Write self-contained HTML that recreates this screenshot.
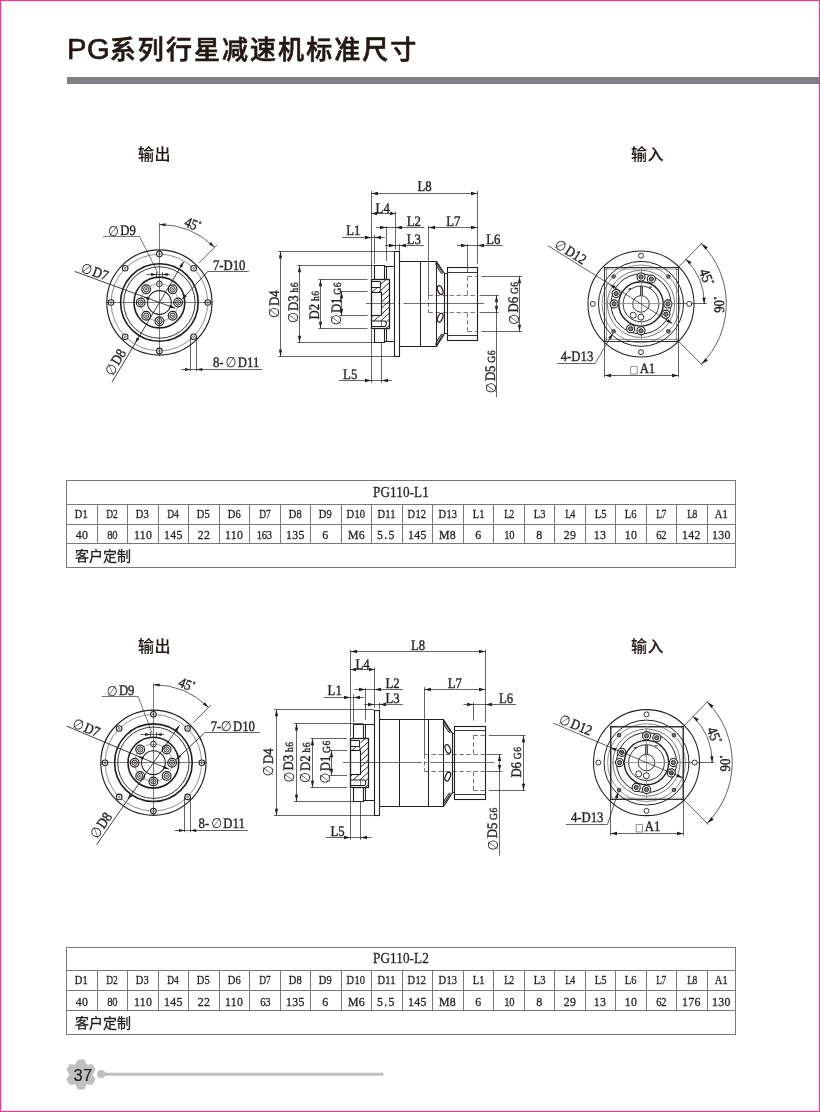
<!DOCTYPE html>
<html lang="zh-CN">
<head>
<meta charset="utf-8">
<title>PG系列行星减速机标准尺寸</title>
<style>
html,body{margin:0;padding:0;background:#fff}
body{width:820px;height:1112px;position:relative;overflow:hidden;font-family:"Liberation Sans","Noto Sans CJK SC",sans-serif;color:#231f20}
.frame{position:absolute;left:0;top:0;width:820px;height:1112px;box-sizing:border-box;border:1px solid #dc4496;box-shadow:inset 0 0 0 1px rgba(220,68,150,0.2);pointer-events:none}
h1,.lab,table.spec,.pg{will-change:transform}
h1{position:absolute;left:66.6px;top:30.7px;margin:0;font-size:26px;line-height:36px;font-weight:500;letter-spacing:2.05px;white-space:nowrap;color:#231815;-webkit-text-stroke:0.6px #231815}
h1 b{font-weight:400;font-size:29.2px;-webkit-text-stroke:0.65px #231815;letter-spacing:0.6px;margin-right:-0.6px}
.bar{position:absolute;left:66.5px;top:76.5px;width:752.3px;height:7.6px;background:#808184}
.lab{position:absolute;font-size:16px;line-height:20px;font-weight:500;white-space:nowrap;color:#231815;letter-spacing:0.4px;-webkit-text-stroke:0.1px #231815}
svg.dw{position:absolute;left:0;top:0;will-change:transform;text-rendering:geometricPrecision}
svg.dw *{stroke:#231f20}
svg.dw text,svg.dw tspan{stroke:#231f20;stroke-width:0.38px;fill:#231f20;font-family:"Liberation Serif","Noto Serif CJK SC",serif}
svg.dw tspan.dia{stroke:none;font-family:"DejaVu Sans","Liberation Sans",sans-serif}
svg.dw path[fill="#231f20"]{stroke:none}
table.spec{position:absolute;left:66.1px;border-collapse:collapse;table-layout:fixed;width:668px;font-family:"Liberation Serif","Noto Serif CJK SC",serif;color:#231f20}
table.spec col{width:30.5px}
table.spec col.last{width:28px}
table.spec th,table.spec td{border:1px solid #77787a;padding:0;text-align:center;font-weight:400;font-size:13.5px;line-height:1;overflow:hidden;white-space:nowrap;box-sizing:border-box}
table.spec span{display:inline-block;transform:scaleX(.78);transform-origin:50% 50%;letter-spacing:0.2px;-webkit-text-stroke:0.3px #231f20;position:relative;top:0.8px}
table.spec span.t{transform:scaleX(.7);letter-spacing:-0.4px}
table.spec .r0 th{height:24px;font-size:14.6px}
table.spec .r0 span{transform:scaleX(.9);letter-spacing:0.1px;top:-0.4px}
table.spec .r1 th{height:20px}
table.spec .r1 span{top:-0.6px}
table.spec .r2 td{height:19px;font-size:13.2px}
table.spec .r2 span{transform:scale(.9,1);top:1px;letter-spacing:0.3px}
table.spec .r2 span.t{transform:scale(.8,1);letter-spacing:-0.4px}
table.spec .r2 span.w{letter-spacing:1.4px}
table.spec .r3 td{height:24px;text-align:left;padding-left:8.0px;padding-top:0.6px;-webkit-text-stroke:0.3px #231f20;font-family:"Liberation Sans","Noto Sans CJK SC",sans-serif;font-size:14px;letter-spacing:0px}
table.t2 .r0 th{height:23px}
table.t2 .r2 td{height:20px}
.t1{top:480px}.t2{top:947px}
.foot{position:absolute;left:60px;top:1054px;width:340px;height:42px}
.pg{position:absolute;left:67.5px;top:1064.6px;width:30px;text-align:center;font-size:16.5px;line-height:20px;color:#1d1d1b;letter-spacing:0.2px;-webkit-text-stroke:0.2px #1d1d1b}
</style>
</head>
<body>
<h1><b>PG</b>系列行星减速机标准尺寸</h1>
<div class="bar"></div>
<div class="lab" style="left:137.6px;top:144.7px">输出</div>
<div class="lab" style="left:630.8px;top:144.8px">输入</div>
<div class="lab" style="left:137.9px;top:637.3px">输出</div>
<div class="lab" style="left:631px;top:637.3px">输入</div>
<svg class="dw" width="820" height="1112" viewBox="0 0 820 1112" fill="none">
<g id="set1">
<circle cx="159.4" cy="302.5" r="52.6" stroke-width="1.15" fill="none"/>
<circle cx="159.4" cy="302.5" r="48.3" stroke-width="0.5" fill="none"/>
<circle cx="159.4" cy="302.5" r="38.8" stroke-width="1.6" fill="none"/>
<circle cx="159.4" cy="302.5" r="35.7" stroke-width="0.9" fill="none"/>
<circle cx="159.4" cy="302.5" r="25.4" stroke-width="1.6" fill="none"/>
<circle cx="159.4" cy="302.5" r="18.7" stroke-width="0.4" fill="none"/>
<circle cx="159.4" cy="302.5" r="11.9" stroke-width="1.05" fill="none"/>
<circle cx="207.8" cy="302.5" r="2.8" stroke-width="1.05" fill="#fff"/>
<circle cx="207.8" cy="302.5" r="0.9" stroke-width="0.6" fill="none"/>
<circle cx="193.62" cy="268.28" r="2.8" stroke-width="1.05" fill="#fff"/>
<circle cx="193.62" cy="268.28" r="0.9" stroke-width="0.6" fill="none"/>
<circle cx="159.4" cy="254.1" r="2.8" stroke-width="1.05" fill="#fff"/>
<circle cx="159.4" cy="254.1" r="0.9" stroke-width="0.6" fill="none"/>
<circle cx="125.18" cy="268.28" r="2.8" stroke-width="1.05" fill="#fff"/>
<circle cx="125.18" cy="268.28" r="0.9" stroke-width="0.6" fill="none"/>
<circle cx="111" cy="302.5" r="2.8" stroke-width="1.05" fill="#fff"/>
<circle cx="111" cy="302.5" r="0.9" stroke-width="0.6" fill="none"/>
<circle cx="125.18" cy="336.72" r="2.8" stroke-width="1.05" fill="#fff"/>
<circle cx="125.18" cy="336.72" r="0.9" stroke-width="0.6" fill="none"/>
<circle cx="159.4" cy="350.9" r="2.8" stroke-width="1.05" fill="#fff"/>
<circle cx="159.4" cy="350.9" r="0.9" stroke-width="0.6" fill="none"/>
<circle cx="193.62" cy="336.72" r="2.8" stroke-width="1.05" fill="#fff"/>
<circle cx="193.62" cy="336.72" r="0.9" stroke-width="0.6" fill="none"/>
<circle cx="178.1" cy="302.5" r="4.35" stroke-width="1.15" fill="#fff"/>
<circle cx="178.1" cy="302.5" r="2.6" stroke-width="0.95" fill="none"/>
<circle cx="178.1" cy="302.5" r="0.9" stroke-width="0.75" fill="none"/>
<circle cx="172.62" cy="289.28" r="4.35" stroke-width="1.15" fill="#fff"/>
<circle cx="172.62" cy="289.28" r="2.6" stroke-width="0.95" fill="none"/>
<circle cx="172.62" cy="289.28" r="0.9" stroke-width="0.75" fill="none"/>
<circle cx="159.4" cy="283.8" r="2.8" stroke-width="1" fill="#fff"/>
<line x1="157.8" y1="283.5" x2="161" y2="283.5" stroke-width="0.5"/>
<circle cx="146.18" cy="289.28" r="4.35" stroke-width="1.15" fill="#fff"/>
<circle cx="146.18" cy="289.28" r="2.6" stroke-width="0.95" fill="none"/>
<circle cx="146.18" cy="289.28" r="0.9" stroke-width="0.75" fill="none"/>
<circle cx="140.7" cy="302.5" r="4.35" stroke-width="1.15" fill="#fff"/>
<circle cx="140.7" cy="302.5" r="2.6" stroke-width="0.95" fill="none"/>
<circle cx="140.7" cy="302.5" r="0.9" stroke-width="0.75" fill="none"/>
<circle cx="146.18" cy="315.72" r="4.35" stroke-width="1.15" fill="#fff"/>
<circle cx="146.18" cy="315.72" r="2.6" stroke-width="0.95" fill="none"/>
<circle cx="146.18" cy="315.72" r="0.9" stroke-width="0.75" fill="none"/>
<circle cx="159.4" cy="321.2" r="4.35" stroke-width="1.15" fill="#fff"/>
<circle cx="159.4" cy="321.2" r="2.6" stroke-width="0.95" fill="none"/>
<circle cx="159.4" cy="321.2" r="0.9" stroke-width="0.75" fill="none"/>
<circle cx="172.62" cy="315.72" r="4.35" stroke-width="1.15" fill="#fff"/>
<circle cx="172.62" cy="315.72" r="2.6" stroke-width="0.95" fill="none"/>
<circle cx="172.62" cy="315.72" r="0.9" stroke-width="0.75" fill="none"/>
<line x1="159.5" y1="222.7" x2="159.5" y2="356" stroke-width="0.6"/>
<line x1="105.9" y1="302.5" x2="212.9" y2="302.5" stroke-width="0.6"/>
<line x1="146.4" y1="274.5" x2="169.9" y2="274.5" stroke-width="0.7"/>
<path d="M156.6 274.5 L151.1 275.89 L151.1 273.11 Z" fill="#231f20" stroke="none"/>
<path d="M162.2 274.5 L167.7 273.11 L167.7 275.89 Z" fill="#231f20" stroke="none"/>
<line x1="156.5" y1="271.9" x2="156.5" y2="276.9" stroke-width="0.7"/>
<line x1="162.5" y1="271.9" x2="162.5" y2="276.9" stroke-width="0.7"/>
<text transform="translate(109.3 235.1) scale(0.88 1)" font-size="14.5" text-anchor="start"><tspan class="dia" font-size="14.21" dy="0.5" dx="-1.5">∅</tspan><tspan dx="1.5" dy="-0.5">D9</tspan></text>
<line x1="103" y1="236.5" x2="139.5" y2="236.5" stroke-width="0.6"/>
<line x1="139.5" y1="236.5" x2="158.2" y2="273.5" stroke-width="0.6"/>
<line x1="74.6" y1="271.4" x2="175.18" y2="308.27" stroke-width="0.85"/>
<path d="M175.18 308.27 L169.2 307.74 L170.26 304.82 Z" fill="#231f20" stroke="none"/>
<path d="M143.62 296.73 L149.6 297.26 L148.54 300.18 Z" fill="#231f20" stroke="none"/>
<text transform="translate(81.3 271.7) rotate(20.1) scale(0.88 1)" font-size="14.5" text-anchor="start"><tspan class="dia" font-size="14.21" dy="0.5" dx="-1.5">∅</tspan><tspan dx="1.5" dy="-0.5">D7</tspan></text>
<line x1="111.9" y1="382.3" x2="183.72" y2="261.7" stroke-width="0.85"/>
<path d="M183.72 261.7 L181.98 267.65 L179.32 266.06 Z" fill="#231f20" stroke="none"/>
<path d="M135.08 343.3 L136.82 337.35 L139.48 338.94 Z" fill="#231f20" stroke="none"/>
<text transform="translate(112.9 375.4) rotate(-59.2) scale(0.88 1)" font-size="14.5" text-anchor="start"><tspan class="dia" font-size="14.21" dy="0.5" dx="-1.5">∅</tspan><tspan dx="1.5" dy="-0.5">D8</tspan></text>
<path d="M159.4 224.5 A78 78 0 0 1 214.55 247.35" stroke-width="0.7" fill="none"/>
<path d="M159.4 224.5 L165.66 223.22 L165.53 226.32 Z" fill="#231f20" stroke="none"/>
<path d="M214.55 247.35 L208.94 244.3 L211.03 242.01 Z" fill="#231f20" stroke="none"/>
<line x1="199" y1="262.9" x2="217.03" y2="244.87" stroke-width="0.7"/>
<text transform="translate(190.74 228.68) rotate(22) scale(0.88 1)" font-size="14.6" text-anchor="middle">45<tspan font-size="7.59" dy="-5.26" dx="0.4">°</tspan></text>
<text transform="translate(212.9 269.5) scale(0.88 1)" font-size="14.5" text-anchor="start">7-D10</text>
<line x1="207.8" y1="271.5" x2="248.8" y2="271.5" stroke-width="0.7"/>
<line x1="207.8" y1="271.4" x2="182.08" y2="299.31" stroke-width="0.85"/>
<path d="M182.08 299.31 L184.66 294.22 L186.94 296.32 Z" fill="#231f20" stroke="none"/>
<text transform="translate(212.9 366.9) scale(0.88 1)" font-size="14.5" text-anchor="start">8- <tspan class="dia" font-size="14.21" dy="0.5" dx="-0.6">∅</tspan><tspan dx="1.5" dy="-0.5">D11</tspan></text>
<line x1="181.1" y1="369.5" x2="262.3" y2="369.5" stroke-width="0.7"/>
<line x1="190.5" y1="336.72" x2="190.5" y2="371.3" stroke-width="0.7"/>
<line x1="196.5" y1="336.72" x2="196.5" y2="371.3" stroke-width="0.7"/>
<path d="M190.92 369.5 L184.92 371.05 L184.92 367.95 Z" fill="#231f20" stroke="none"/>
<path d="M196.32 369.5 L202.32 367.95 L202.32 371.05 Z" fill="#231f20" stroke="none"/>
<line x1="366" y1="303.5" x2="484.2" y2="303.5" stroke-width="0.65" stroke-dasharray="29 3.4 1.7 3.4 200"/>
<path d="M374.5 279.5 L374.5 265.5 L384.5 265.5 L384.5 279.5" stroke-width="1.1" fill="none"/>
<line x1="384.4" y1="266.5" x2="394.9" y2="266.5" stroke-width="1"/>
<line x1="386.5" y1="266.1" x2="386.5" y2="279.7" stroke-width="1"/>
<path d="M374.5 328.5 L374.5 342.5 L384.5 342.5 L384.5 328.5" stroke-width="1.1" fill="none"/>
<line x1="384.4" y1="341.5" x2="394.9" y2="341.5" stroke-width="1"/>
<line x1="386.5" y1="341.7" x2="386.5" y2="328.1" stroke-width="1"/>
<clipPath id="hc1"><path d="M381 279.7 H389.3 V328.1 H381 Z M371 287.7 H381 V292 H371 Z M371 315.8 H381 V320.9 H371 Z"/></clipPath>
<path d="M365 249.7 l40 -36 M365 255.8 l40 -36 M365 261.9 l40 -36 M365 268 l40 -36 M365 274.1 l40 -36 M365 280.2 l40 -36 M365 286.3 l40 -36 M365 292.4 l40 -36 M365 298.5 l40 -36 M365 304.6 l40 -36 M365 310.7 l40 -36 M365 316.8 l40 -36 M365 322.9 l40 -36 M365 329 l40 -36 M365 335.1 l40 -36 M365 341.2 l40 -36 M365 347.3 l40 -36 M365 353.4 l40 -36 M365 359.5 l40 -36 M365 365.6 l40 -36" stroke-width="0.95" clip-path="url(#hc1)" fill="none"/>
<line x1="381.5" y1="292" x2="381.5" y2="315.8" stroke-width="1.1"/>
<line x1="371" y1="292.5" x2="381" y2="292.5" stroke-width="1.1"/>
<line x1="371" y1="315.5" x2="381" y2="315.5" stroke-width="1.1"/>
<path d="M371.5 287.5 L380.5 287.5 L380.5 281.5 L371.5 281.5" stroke-width="1" fill="none"/>
<line x1="380" y1="287.7" x2="381" y2="292" stroke-width="0.8"/>
<path d="M371 320.9 H385.2 Q387.4 323.65 385.2 326.4 H371" stroke-width="1.05" fill="#fff"/>
<line x1="381.5" y1="320.9" x2="381.5" y2="326.4" stroke-width="0.6"/>
<rect x="371.5" y="279.5" width="18" height="49" stroke-width="1.3" fill="none"/>
<rect x="394.5" y="251.5" width="5" height="105" stroke-width="1.1" fill="none"/>
<path d="M399.5 261.5 L436.5 261.5 L444.5 273.5 L444.5 333.5 L436.5 346.5 L399.5 346.5" stroke-width="1.1" fill="none"/>
<line x1="420.5" y1="261.1" x2="420.5" y2="346.7" stroke-width="1"/>
<line x1="436.5" y1="261.1" x2="436.5" y2="346.7" stroke-width="1"/>
<ellipse cx="440.2" cy="290.1" rx="2.4" ry="4.6" transform="rotate(-22 440.2 290.1)" stroke-width="1.2" fill="none"/>
<ellipse cx="439" cy="268.4" rx="0.8" ry="6.04" transform="rotate(-32.01 439 268.4)" stroke-width="1" fill="none"/>
<ellipse cx="440.2" cy="317.7" rx="2.4" ry="4.6" transform="rotate(22 440.2 317.7)" stroke-width="1.2" fill="none"/>
<ellipse cx="439" cy="339.4" rx="0.8" ry="6.04" transform="rotate(32.01 439 339.4)" stroke-width="1" fill="none"/>
<rect x="447.5" y="267.5" width="30" height="73" stroke-width="1.1" fill="none"/>
<line x1="447.4" y1="272.5" x2="477.8" y2="272.5" stroke-width="0.9"/>
<line x1="447.4" y1="335.5" x2="477.8" y2="335.5" stroke-width="0.9"/>
<line x1="444.1" y1="273.5" x2="447.4" y2="273.5" stroke-width="0.9"/>
<line x1="444.1" y1="333.5" x2="447.4" y2="333.5" stroke-width="0.9"/>
<line x1="428.5" y1="295.5" x2="477.8" y2="295.5" stroke-width="0.62" stroke-dasharray="4.4 2.6"/>
<line x1="467.9" y1="276.5" x2="477.8" y2="276.5" stroke-width="0.62" stroke-dasharray="4.4 2.6"/>
<line x1="467.5" y1="276.3" x2="467.5" y2="295.4" stroke-width="0.62" stroke-dasharray="4.4 2.6"/>
<line x1="428.5" y1="312.5" x2="477.8" y2="312.5" stroke-width="0.62" stroke-dasharray="4.4 2.6"/>
<line x1="467.9" y1="331.5" x2="477.8" y2="331.5" stroke-width="0.62" stroke-dasharray="4.4 2.6"/>
<line x1="467.5" y1="331.5" x2="467.5" y2="312.4" stroke-width="0.62" stroke-dasharray="4.4 2.6"/>
<line x1="428.5" y1="295.4" x2="428.5" y2="312.4" stroke-width="0.62" stroke-dasharray="4.4 2.6"/>
<line x1="371.5" y1="193.5" x2="477.5" y2="193.5" stroke-width="0.7"/>
<path d="M371.5 193.5 L378 191.87 L378 195.13 Z" fill="#231f20" stroke="none"/>
<path d="M477.5 193.5 L471 195.13 L471 191.87 Z" fill="#231f20" stroke="none"/>
<text transform="translate(424.6 191.1) scale(0.88 1)" font-size="14.5" text-anchor="middle">L8</text>
<line x1="371.5" y1="191" x2="371.5" y2="278.2" stroke-width="0.7"/>
<line x1="477.5" y1="191" x2="477.5" y2="263.7" stroke-width="0.7"/>
<line x1="371.5" y1="213.5" x2="395.5" y2="213.5" stroke-width="0.7"/>
<path d="M371.5 213.5 L377 211.87 L377 215.13 Z" fill="#231f20" stroke="none"/>
<path d="M395.5 213.5 L390 215.13 L390 211.87 Z" fill="#231f20" stroke="none"/>
<text transform="translate(375.6 213) scale(0.88 1)" font-size="14.5" text-anchor="start">L4</text>
<line x1="395.5" y1="211.6" x2="395.5" y2="249.2" stroke-width="0.7"/>
<line x1="375.8" y1="227.5" x2="424.3" y2="227.5" stroke-width="0.7"/>
<path d="M386.5 227.5 L380 229.13 L380 225.87 Z" fill="#231f20" stroke="none"/>
<path d="M395.5 227.5 L402 225.87 L402 229.13 Z" fill="#231f20" stroke="none"/>
<text transform="translate(406.8 226.2) scale(0.88 1)" font-size="14.5" text-anchor="start">L2</text>
<line x1="386.5" y1="226.2" x2="386.5" y2="261.1" stroke-width="0.7"/>
<line x1="384.8" y1="245.5" x2="424.1" y2="245.5" stroke-width="0.7"/>
<path d="M395.5 245.5 L389 247.13 L389 243.87 Z" fill="#231f20" stroke="none"/>
<path d="M399.5 245.5 L406 243.87 L406 247.13 Z" fill="#231f20" stroke="none"/>
<text transform="translate(406.8 244) scale(0.88 1)" font-size="14.5" text-anchor="start">L3</text>
<line x1="399.5" y1="243.9" x2="399.5" y2="250.7" stroke-width="0.7"/>
<line x1="428.5" y1="227.5" x2="477.5" y2="227.5" stroke-width="0.7"/>
<path d="M428.5 227.5 L435 225.87 L435 229.13 Z" fill="#231f20" stroke="none"/>
<path d="M477.5 227.5 L471 229.13 L471 225.87 Z" fill="#231f20" stroke="none"/>
<text transform="translate(446.3 226.2) scale(0.88 1)" font-size="14.5" text-anchor="start">L7</text>
<line x1="428.5" y1="225.6" x2="428.5" y2="295.4" stroke-width="0.7"/>
<line x1="456.9" y1="245.5" x2="502.7" y2="245.5" stroke-width="0.7"/>
<path d="M467.5 245.5 L461 247.13 L461 243.87 Z" fill="#231f20" stroke="none"/>
<path d="M477.5 245.5 L484 243.87 L484 247.13 Z" fill="#231f20" stroke="none"/>
<text transform="translate(486.2 244) scale(0.88 1)" font-size="14.5" text-anchor="start">L6</text>
<line x1="467.5" y1="243.9" x2="467.5" y2="272.1" stroke-width="0.7"/>
<line x1="342.3" y1="237.5" x2="384.8" y2="237.5" stroke-width="0.7"/>
<path d="M371.5 237.5 L365 239.13 L365 235.87 Z" fill="#231f20" stroke="none"/>
<path d="M374.5 237.5 L381 235.87 L381 239.13 Z" fill="#231f20" stroke="none"/>
<text transform="translate(346.3 235.2) scale(0.88 1)" font-size="14.5" text-anchor="start">L1</text>
<line x1="374.5" y1="234.8" x2="374.5" y2="263.6" stroke-width="0.7"/>
<line x1="339.1" y1="380.5" x2="391.9" y2="380.5" stroke-width="0.7"/>
<path d="M371.5 380.5 L365 382.13 L365 378.87 Z" fill="#231f20" stroke="none"/>
<path d="M381.5 380.5 L388 378.87 L388 382.13 Z" fill="#231f20" stroke="none"/>
<text transform="translate(343.1 378.8) scale(0.88 1)" font-size="14.5" text-anchor="start">L5</text>
<line x1="371.5" y1="329.6" x2="371.5" y2="382.8" stroke-width="0.7"/>
<line x1="381.5" y1="342.2" x2="381.5" y2="382.8" stroke-width="0.7"/>
<line x1="278.2" y1="251.5" x2="394.9" y2="251.5" stroke-width="0.7"/>
<line x1="278.2" y1="356.5" x2="394.9" y2="356.5" stroke-width="0.7"/>
<line x1="280.5" y1="251.5" x2="280.5" y2="356.5" stroke-width="0.7"/>
<path d="M280.5 251.5 L282.13 258.3 L278.87 258.3 Z" fill="#231f20" stroke="none"/>
<path d="M280.5 356.5 L278.87 349.7 L282.13 349.7 Z" fill="#231f20" stroke="none"/>
<text transform="translate(278.6 316.8) rotate(-90) scale(0.88 1)" font-size="14.5" text-anchor="start"><tspan class="dia" font-size="14.21" dy="0.5" dx="-1.5">∅</tspan><tspan dx="1.5" dy="-0.5">D4</tspan></text>
<line x1="297.2" y1="265.5" x2="384.8" y2="265.5" stroke-width="0.7"/>
<line x1="297.2" y1="342.5" x2="384.8" y2="342.5" stroke-width="0.7"/>
<line x1="299.5" y1="265.5" x2="299.5" y2="342.5" stroke-width="0.7"/>
<path d="M299.5 265.5 L301.13 272.3 L297.87 272.3 Z" fill="#231f20" stroke="none"/>
<path d="M299.5 342.5 L297.87 335.7 L301.13 335.7 Z" fill="#231f20" stroke="none"/>
<text transform="translate(297.7 321.8) rotate(-90) scale(0.88 1)" font-size="14.5" text-anchor="start"><tspan class="dia" font-size="14.21" dy="0.5" dx="-1.5">∅</tspan><tspan dx="1.5" dy="-0.5">D3</tspan><tspan font-size="10.88" dx="3.2" letter-spacing="0.5">h6</tspan></text>
<line x1="318.4" y1="279.5" x2="367.5" y2="279.5" stroke-width="0.7"/>
<line x1="318.4" y1="328.5" x2="367.5" y2="328.5" stroke-width="0.7"/>
<line x1="320.5" y1="279.5" x2="320.5" y2="328.5" stroke-width="0.7"/>
<path d="M320.5 279.5 L322.13 286.3 L318.87 286.3 Z" fill="#231f20" stroke="none"/>
<path d="M320.5 328.5 L318.87 321.7 L322.13 321.7 Z" fill="#231f20" stroke="none"/>
<text transform="translate(319.3 319.4) rotate(-90) scale(0.88 1)" font-size="14.5" text-anchor="start">D2<tspan font-size="10.88" dx="3.2" letter-spacing="0.5">h6</tspan></text>
<line x1="339.4" y1="291.5" x2="367.5" y2="291.5" stroke-width="0.7"/>
<line x1="339.4" y1="315.5" x2="367.5" y2="315.5" stroke-width="0.7"/>
<line x1="341.5" y1="291.5" x2="341.5" y2="315.5" stroke-width="0.7"/>
<path d="M341.5 291.5 L343.13 298.3 L339.87 298.3 Z" fill="#231f20" stroke="none"/>
<path d="M341.5 315.5 L339.87 308.7 L343.13 308.7 Z" fill="#231f20" stroke="none"/>
<text transform="translate(340.5 324) rotate(-90) scale(0.88 1)" font-size="14.5" text-anchor="start"><tspan class="dia" font-size="14.21" dy="0.5" dx="-1.5">∅</tspan><tspan dx="1.5" dy="-0.5">D1</tspan><tspan font-size="10.88" dx="3.2" letter-spacing="0.5">G6</tspan></text>
<line x1="481.3" y1="276.5" x2="522.1" y2="276.5" stroke-width="0.7"/>
<line x1="481.3" y1="331.5" x2="522.1" y2="331.5" stroke-width="0.7"/>
<line x1="519.5" y1="276.5" x2="519.5" y2="331.5" stroke-width="0.7"/>
<path d="M519.5 276.5 L521.13 283.3 L517.87 283.3 Z" fill="#231f20" stroke="none"/>
<path d="M519.5 331.5 L517.87 324.7 L521.13 324.7 Z" fill="#231f20" stroke="none"/>
<text transform="translate(518.4 323.4) rotate(-90) scale(0.88 1)" font-size="14.5" text-anchor="start"><tspan class="dia" font-size="14.21" dy="0.5" dx="-1.5">∅</tspan><tspan dx="1.5" dy="-0.5">D6</tspan><tspan font-size="10.88" dx="3.2" letter-spacing="0.5">G6</tspan></text>
<line x1="479.5" y1="295.5" x2="498.7" y2="295.5" stroke-width="0.7"/>
<line x1="479.5" y1="312.5" x2="498.7" y2="312.5" stroke-width="0.7"/>
<line x1="496.5" y1="295.4" x2="496.5" y2="397.2" stroke-width="0.7"/>
<path d="M496.5 295.5 L498.13 302 L494.87 302 Z" fill="#231f20" stroke="none"/>
<path d="M496.5 312.5 L494.87 306 L498.13 306 Z" fill="#231f20" stroke="none"/>
<text transform="translate(495.4 392) rotate(-90) scale(0.88 1)" font-size="14.5" text-anchor="start"><tspan class="dia" font-size="14.21" dy="0.5" dx="-1.5">∅</tspan><tspan dx="1.5" dy="-0.5">D5</tspan><tspan font-size="10.88" dx="3.2" letter-spacing="0.5">G6</tspan></text>
<circle cx="641" cy="303.9" r="53" stroke-width="1.05" fill="none"/>
<circle cx="641" cy="303.9" r="42.5" stroke-width="1" fill="none"/>
<circle cx="641" cy="303.9" r="38.9" stroke-width="0.5" fill="none"/>
<circle cx="641" cy="303.9" r="33.6" stroke-width="0.6" fill="none"/>
<circle cx="641" cy="303.9" r="30" stroke-width="1" fill="none"/>
<circle cx="641" cy="303.9" r="22.2" stroke-width="1.4" fill="none"/>
<circle cx="641" cy="303.9" r="17.9" stroke-width="0.9" fill="none"/>
<circle cx="641" cy="303.9" r="8.3" stroke-width="0.9" fill="none"/>
<rect x="604.5" y="267.5" width="74" height="74" stroke-width="0.9" fill="none"/>
<rect x="606.2" y="269" width="70.4" height="70.4" stroke-width="0.45" fill="none"/>
<line x1="605" y1="303.5" x2="677" y2="303.5" stroke-width="1" style="stroke:#999"/>
<line x1="677" y1="303.5" x2="706.8" y2="303.5" stroke-width="0.7"/>
<line x1="641.5" y1="267.9" x2="641.5" y2="339.9" stroke-width="1" style="stroke:#999"/>
<circle cx="689.2" cy="303.9" r="2.5" stroke-width="0.9" fill="#fff"/>
<circle cx="641" cy="255.7" r="2.5" stroke-width="0.9" fill="#fff"/>
<circle cx="592.8" cy="303.9" r="2.5" stroke-width="0.9" fill="#fff"/>
<circle cx="641" cy="352.1" r="2.5" stroke-width="0.9" fill="#fff"/>
<circle cx="613.6" cy="276.5" r="1.8" stroke-width="0.9" fill="#777"/>
<circle cx="605.7" cy="268.5" r="1.1" stroke-width="0.5" fill="none"/>
<circle cx="613.6" cy="331.3" r="1.8" stroke-width="0.9" fill="#777"/>
<circle cx="605.7" cy="339.9" r="1.1" stroke-width="0.5" fill="none"/>
<circle cx="668.4" cy="276.5" r="1.8" stroke-width="0.9" fill="#777"/>
<circle cx="677.1" cy="268.5" r="1.1" stroke-width="0.5" fill="none"/>
<circle cx="668.4" cy="331.3" r="1.8" stroke-width="0.9" fill="#777"/>
<circle cx="677.1" cy="339.9" r="1.1" stroke-width="0.5" fill="none"/>
<circle cx="667.9" cy="303.9" r="4.05" stroke-width="1.1" fill="#fff"/>
<circle cx="667.9" cy="303.9" r="2.1" stroke-width="1" fill="#858585"/>
<circle cx="665.85" cy="314.19" r="4.05" stroke-width="1.1" fill="#fff"/>
<circle cx="665.85" cy="314.19" r="2.1" stroke-width="1" fill="#858585"/>
<circle cx="641" cy="277" r="4.05" stroke-width="1.1" fill="#fff"/>
<circle cx="641" cy="277" r="2.1" stroke-width="1" fill="#858585"/>
<circle cx="651.29" cy="279.05" r="4.05" stroke-width="1.1" fill="#fff"/>
<circle cx="651.29" cy="279.05" r="2.1" stroke-width="1" fill="#858585"/>
<circle cx="614.1" cy="303.9" r="4.05" stroke-width="1.1" fill="#fff"/>
<circle cx="614.1" cy="303.9" r="2.1" stroke-width="1" fill="#858585"/>
<circle cx="616.15" cy="293.61" r="4.05" stroke-width="1.1" fill="#fff"/>
<circle cx="616.15" cy="293.61" r="2.1" stroke-width="1" fill="#858585"/>
<circle cx="641" cy="330.8" r="4.05" stroke-width="1.1" fill="#fff"/>
<circle cx="641" cy="330.8" r="2.1" stroke-width="1" fill="#858585"/>
<circle cx="630.71" cy="328.75" r="4.05" stroke-width="1.1" fill="#fff"/>
<circle cx="630.71" cy="328.75" r="2.1" stroke-width="1" fill="#858585"/>
<circle cx="633.2" cy="315.2" r="3" stroke-width="0.9" fill="#fff"/>
<circle cx="640.9" cy="317.1" r="3" stroke-width="0.9" fill="#fff"/>
<line x1="640.5" y1="286.7" x2="640.5" y2="295.9" stroke-width="0.8"/>
<line x1="642.5" y1="286.7" x2="642.5" y2="295.9" stroke-width="0.8"/>
<line x1="640" y1="286.5" x2="642" y2="286.5" stroke-width="0.8"/>
<line x1="628.4" y1="289.3" x2="631" y2="288.5" stroke-width="1.1"/>
<line x1="649.2" y1="287.3" x2="652" y2="287" stroke-width="1.1"/>
<line x1="547.9" y1="245.6" x2="672.38" y2="323.51" stroke-width="0.7"/>
<path d="M672.38 323.51 L666.39 321.77 L668.19 318.88 Z" fill="#231f20" stroke="none"/>
<path d="M609.62 284.29 L615.61 286.03 L613.81 288.92 Z" fill="#231f20" stroke="none"/>
<text transform="translate(554.8 247.4) rotate(32) scale(0.88 1)" font-size="14.5" text-anchor="start"><tspan class="dia" font-size="14.21" dy="0.5" dx="-1.5">∅</tspan><tspan dx="1.5" dy="-0.5">D12</tspan></text>
<text transform="translate(560.7 360.8) scale(0.88 1)" font-size="14.5" text-anchor="start">4-D13</text>
<line x1="556.9" y1="363.5" x2="595.3" y2="363.5" stroke-width="0.7"/>
<line x1="595.3" y1="363.2" x2="612.7" y2="333.5" stroke-width="0.7"/>
<path d="M612.7 333.5 L611.14 339.54 L608.2 337.82 Z" fill="#231f20" stroke="none"/>
<line x1="604.5" y1="375.5" x2="678.5" y2="375.5" stroke-width="0.7"/>
<path d="M604.5 375.5 L611 373.87 L611 377.13 Z" fill="#231f20" stroke="none"/>
<path d="M678.5 375.5 L672 377.13 L672 373.87 Z" fill="#231f20" stroke="none"/>
<line x1="604.5" y1="341.1" x2="604.5" y2="377.5" stroke-width="0.7"/>
<line x1="678.5" y1="341.1" x2="678.5" y2="377.5" stroke-width="0.7"/>
<text transform="translate(629.8 373) scale(0.88 1)" font-size="14.5" text-anchor="start"><tspan class="dia" font-size="10.15" dy="-0.3">□</tspan><tspan dx="1.6" dy="0.3">A1</tspan></text>
<path d="M685.76 259.14 A63.3 63.3 0 0 1 704.3 303.9" stroke-width="0.7" fill="none"/>
<path d="M701.32 243.58 A85.3 85.3 0 0 1 701.32 364.22" stroke-width="0.7" fill="none"/>
<line x1="678.3" y1="267.3" x2="702.73" y2="242.17" stroke-width="0.7"/>
<line x1="678.3" y1="341.1" x2="702.73" y2="365.63" stroke-width="0.7"/>
<path d="M701.32 243.58 L707.81 247.13 L705.53 249.67 Z" fill="#231f20" stroke="none"/>
<path d="M701.32 364.22 L705.53 358.13 L707.81 360.67 Z" fill="#231f20" stroke="none"/>
<path d="M685.76 259.14 L691.58 262.09 L689.3 264.62 Z" fill="#231f20" stroke="none"/>
<path d="M704.3 303.9 L702.27 297.7 L705.67 297.52 Z" fill="#231f20" stroke="none"/>
<text transform="translate(701.8 278.8) rotate(68) scale(0.88 1)" font-size="15" text-anchor="middle">45<tspan font-size="7.8" dy="-5.4" dx="0.4">°</tspan></text>
<text transform="translate(724.4 312.8) rotate(-90) scale(0.88 1)" font-size="14.6" text-anchor="start">90<tspan font-size="7.59" dy="-5.26" dx="0.4">°</tspan></text>
</g>
<g id="set2">
<circle cx="153.4" cy="762.7" r="52.6" stroke-width="1.15" fill="none"/>
<circle cx="153.4" cy="762.7" r="48.3" stroke-width="0.5" fill="none"/>
<circle cx="153.4" cy="762.7" r="38.8" stroke-width="1.6" fill="none"/>
<circle cx="153.4" cy="762.7" r="35.7" stroke-width="0.9" fill="none"/>
<circle cx="153.4" cy="762.7" r="25.4" stroke-width="1.6" fill="none"/>
<circle cx="153.4" cy="762.7" r="18.7" stroke-width="0.4" fill="none"/>
<circle cx="153.4" cy="762.7" r="11.9" stroke-width="1.05" fill="none"/>
<circle cx="201.8" cy="762.7" r="2.8" stroke-width="1.05" fill="#fff"/>
<circle cx="201.8" cy="762.7" r="0.9" stroke-width="0.6" fill="none"/>
<circle cx="187.62" cy="728.48" r="2.8" stroke-width="1.05" fill="#fff"/>
<circle cx="187.62" cy="728.48" r="0.9" stroke-width="0.6" fill="none"/>
<circle cx="153.4" cy="714.3" r="2.8" stroke-width="1.05" fill="#fff"/>
<circle cx="153.4" cy="714.3" r="0.9" stroke-width="0.6" fill="none"/>
<circle cx="119.18" cy="728.48" r="2.8" stroke-width="1.05" fill="#fff"/>
<circle cx="119.18" cy="728.48" r="0.9" stroke-width="0.6" fill="none"/>
<circle cx="105" cy="762.7" r="2.8" stroke-width="1.05" fill="#fff"/>
<circle cx="105" cy="762.7" r="0.9" stroke-width="0.6" fill="none"/>
<circle cx="119.18" cy="796.92" r="2.8" stroke-width="1.05" fill="#fff"/>
<circle cx="119.18" cy="796.92" r="0.9" stroke-width="0.6" fill="none"/>
<circle cx="153.4" cy="811.1" r="2.8" stroke-width="1.05" fill="#fff"/>
<circle cx="153.4" cy="811.1" r="0.9" stroke-width="0.6" fill="none"/>
<circle cx="187.62" cy="796.92" r="2.8" stroke-width="1.05" fill="#fff"/>
<circle cx="187.62" cy="796.92" r="0.9" stroke-width="0.6" fill="none"/>
<circle cx="172.1" cy="762.7" r="4.35" stroke-width="1.15" fill="#fff"/>
<circle cx="172.1" cy="762.7" r="2.6" stroke-width="0.95" fill="none"/>
<circle cx="172.1" cy="762.7" r="0.9" stroke-width="0.75" fill="none"/>
<circle cx="166.62" cy="749.48" r="4.35" stroke-width="1.15" fill="#fff"/>
<circle cx="166.62" cy="749.48" r="2.6" stroke-width="0.95" fill="none"/>
<circle cx="166.62" cy="749.48" r="0.9" stroke-width="0.75" fill="none"/>
<circle cx="153.4" cy="744" r="2.8" stroke-width="1" fill="#fff"/>
<line x1="151.8" y1="744.5" x2="155" y2="744.5" stroke-width="0.5"/>
<circle cx="140.18" cy="749.48" r="4.35" stroke-width="1.15" fill="#fff"/>
<circle cx="140.18" cy="749.48" r="2.6" stroke-width="0.95" fill="none"/>
<circle cx="140.18" cy="749.48" r="0.9" stroke-width="0.75" fill="none"/>
<circle cx="134.7" cy="762.7" r="4.35" stroke-width="1.15" fill="#fff"/>
<circle cx="134.7" cy="762.7" r="2.6" stroke-width="0.95" fill="none"/>
<circle cx="134.7" cy="762.7" r="0.9" stroke-width="0.75" fill="none"/>
<circle cx="140.18" cy="775.92" r="4.35" stroke-width="1.15" fill="#fff"/>
<circle cx="140.18" cy="775.92" r="2.6" stroke-width="0.95" fill="none"/>
<circle cx="140.18" cy="775.92" r="0.9" stroke-width="0.75" fill="none"/>
<circle cx="153.4" cy="781.4" r="4.35" stroke-width="1.15" fill="#fff"/>
<circle cx="153.4" cy="781.4" r="2.6" stroke-width="0.95" fill="none"/>
<circle cx="153.4" cy="781.4" r="0.9" stroke-width="0.75" fill="none"/>
<circle cx="166.62" cy="775.92" r="4.35" stroke-width="1.15" fill="#fff"/>
<circle cx="166.62" cy="775.92" r="2.6" stroke-width="0.95" fill="none"/>
<circle cx="166.62" cy="775.92" r="0.9" stroke-width="0.75" fill="none"/>
<line x1="153.5" y1="683.4" x2="153.5" y2="816" stroke-width="0.6"/>
<line x1="99.9" y1="762.5" x2="206.9" y2="762.5" stroke-width="0.6"/>
<line x1="140.4" y1="734.5" x2="163.9" y2="734.5" stroke-width="0.7"/>
<path d="M150.6 734.5 L145.1 735.89 L145.1 733.11 Z" fill="#231f20" stroke="none"/>
<path d="M156.2 734.5 L161.7 733.11 L161.7 735.89 Z" fill="#231f20" stroke="none"/>
<line x1="150.5" y1="731.9" x2="150.5" y2="736.9" stroke-width="0.7"/>
<line x1="156.5" y1="731.9" x2="156.5" y2="736.9" stroke-width="0.7"/>
<text transform="translate(108 695.3) scale(0.88 1)" font-size="14.5" text-anchor="start"><tspan class="dia" font-size="14.21" dy="0.5" dx="-1.5">∅</tspan><tspan dx="1.5" dy="-0.5">D9</tspan></text>
<line x1="101.7" y1="696.5" x2="138.2" y2="696.5" stroke-width="0.6"/>
<line x1="138.2" y1="696.5" x2="152.2" y2="733.5" stroke-width="0.6"/>
<line x1="66.6" y1="726.1" x2="168.88" y2="769.24" stroke-width="0.85"/>
<path d="M168.88 769.24 L162.93 768.41 L164.14 765.55 Z" fill="#231f20" stroke="none"/>
<path d="M137.92 756.16 L143.87 756.99 L142.66 759.85 Z" fill="#231f20" stroke="none"/>
<text transform="translate(72.9 727) rotate(22.9) scale(0.88 1)" font-size="14.5" text-anchor="start"><tspan class="dia" font-size="14.21" dy="0.5" dx="-1.5">∅</tspan><tspan dx="1.5" dy="-0.5">D7</tspan></text>
<line x1="96.5" y1="844.8" x2="179.43" y2="725.38" stroke-width="0.85"/>
<path d="M179.43 725.38 L177.27 731.19 L174.73 729.42 Z" fill="#231f20" stroke="none"/>
<path d="M127.37 800.02 L129.53 794.21 L132.07 795.98 Z" fill="#231f20" stroke="none"/>
<text transform="translate(97.5 838.5) rotate(-55.1) scale(0.88 1)" font-size="14.5" text-anchor="start"><tspan class="dia" font-size="14.21" dy="0.5" dx="-1.5">∅</tspan><tspan dx="1.5" dy="-0.5">D8</tspan></text>
<path d="M153.4 684.7 A78 78 0 0 1 208.55 707.55" stroke-width="0.7" fill="none"/>
<path d="M153.4 684.7 L159.66 683.42 L159.53 686.52 Z" fill="#231f20" stroke="none"/>
<path d="M208.55 707.55 L202.94 704.5 L205.03 702.21 Z" fill="#231f20" stroke="none"/>
<line x1="193" y1="723.1" x2="211.03" y2="705.07" stroke-width="0.7"/>
<text transform="translate(184.74 688.88) rotate(22) scale(0.88 1)" font-size="14.6" text-anchor="middle">45<tspan font-size="7.59" dy="-5.26" dx="0.4">°</tspan></text>
<text transform="translate(210.7 730.7) scale(0.88 1)" font-size="14.5" text-anchor="start">7-<tspan class="dia" font-size="14.21" dy="0.5" dx="-0.6">∅</tspan><tspan dx="1.5" dy="-0.5">D10</tspan></text>
<line x1="204.9" y1="732.5" x2="259.8" y2="732.5" stroke-width="0.7"/>
<line x1="204.9" y1="732.6" x2="176.08" y2="759.51" stroke-width="0.85"/>
<path d="M176.08 759.51 L179.04 754.63 L181.15 756.89 Z" fill="#231f20" stroke="none"/>
<text transform="translate(198.5 827.9) scale(0.88 1)" font-size="14.5" text-anchor="start">8- <tspan class="dia" font-size="14.21" dy="0.5" dx="-0.6">∅</tspan><tspan dx="1.5" dy="-0.5">D11</tspan></text>
<line x1="174.8" y1="830.5" x2="247.9" y2="830.5" stroke-width="0.7"/>
<line x1="184.5" y1="796.92" x2="184.5" y2="832.3" stroke-width="0.7"/>
<line x1="190.5" y1="796.92" x2="190.5" y2="832.3" stroke-width="0.7"/>
<path d="M184.92 830.5 L178.92 832.05 L178.92 828.95 Z" fill="#231f20" stroke="none"/>
<path d="M190.32 830.5 L196.32 828.95 L196.32 832.05 Z" fill="#231f20" stroke="none"/>
<line x1="343" y1="762.5" x2="494.6" y2="762.5" stroke-width="0.65" stroke-dasharray="79 3.1 2.1 3.1 200"/>
<path d="M353.5 738.5 L353.5 724.5 L363.5 724.5 L363.5 738.5" stroke-width="1.1" fill="none"/>
<line x1="363.1" y1="724.5" x2="374" y2="724.5" stroke-width="1"/>
<line x1="365.5" y1="724.9" x2="365.5" y2="738.4" stroke-width="1"/>
<path d="M353.5 787.5 L353.5 801.5 L363.5 801.5 L363.5 787.5" stroke-width="1.1" fill="none"/>
<line x1="363.1" y1="800.5" x2="374" y2="800.5" stroke-width="1"/>
<line x1="365.5" y1="800.7" x2="365.5" y2="787.2" stroke-width="1"/>
<clipPath id="hc2"><path d="M360.5 738.4 H368.6 V787.2 H360.5 Z M350.5 746.4 H360.5 V750.7 H350.5 Z M350.5 774.9 H360.5 V780 H350.5 Z"/></clipPath>
<path d="M344.5 708.4 l40 -36 M344.5 714.5 l40 -36 M344.5 720.6 l40 -36 M344.5 726.7 l40 -36 M344.5 732.8 l40 -36 M344.5 738.9 l40 -36 M344.5 745 l40 -36 M344.5 751.1 l40 -36 M344.5 757.2 l40 -36 M344.5 763.3 l40 -36 M344.5 769.4 l40 -36 M344.5 775.5 l40 -36 M344.5 781.6 l40 -36 M344.5 787.7 l40 -36 M344.5 793.8 l40 -36 M344.5 799.9 l40 -36 M344.5 806 l40 -36 M344.5 812.1 l40 -36 M344.5 818.2 l40 -36 M344.5 824.3 l40 -36" stroke-width="0.95" clip-path="url(#hc2)" fill="none"/>
<line x1="360.5" y1="750.7" x2="360.5" y2="774.9" stroke-width="1.1"/>
<line x1="350.5" y1="750.5" x2="360.5" y2="750.5" stroke-width="1.1"/>
<line x1="350.5" y1="774.5" x2="360.5" y2="774.5" stroke-width="1.1"/>
<path d="M350.5 746.5 L359.5 746.5 L359.5 740.5 L350.5 740.5" stroke-width="1" fill="none"/>
<line x1="359.5" y1="746.4" x2="360.5" y2="750.7" stroke-width="0.8"/>
<path d="M350.5 780 H364.7 Q366.9 782.75 364.7 785.5 H350.5" stroke-width="1.05" fill="#fff"/>
<line x1="360.5" y1="780" x2="360.5" y2="785.5" stroke-width="0.6"/>
<rect x="350.5" y="738.5" width="18" height="49" stroke-width="1.3" fill="none"/>
<rect x="374.5" y="710.5" width="5" height="105" stroke-width="1.1" fill="none"/>
<path d="M379.5 719.5 L443.5 719.5 L452.5 733.5 L452.5 792.5 L443.5 806.5 L379.5 806.5" stroke-width="1.1" fill="none"/>
<line x1="399.5" y1="719.6" x2="399.5" y2="806" stroke-width="1"/>
<line x1="428.5" y1="719.6" x2="428.5" y2="806" stroke-width="1"/>
<line x1="443.5" y1="719.6" x2="443.5" y2="806" stroke-width="1"/>
<ellipse cx="447.8" cy="749" rx="2.4" ry="4.6" transform="rotate(-22 447.8 749)" stroke-width="1.2" fill="none"/>
<ellipse cx="446.6" cy="727.25" rx="0.8" ry="6.4" transform="rotate(-32.5 446.6 727.25)" stroke-width="1" fill="none"/>
<ellipse cx="447.8" cy="776.6" rx="2.4" ry="4.6" transform="rotate(22 447.8 776.6)" stroke-width="1.2" fill="none"/>
<ellipse cx="446.6" cy="798.35" rx="0.8" ry="6.4" transform="rotate(32.5 446.6 798.35)" stroke-width="1" fill="none"/>
<rect x="454.5" y="726.5" width="31" height="73" stroke-width="1.1" fill="none"/>
<line x1="454.7" y1="730.5" x2="485.9" y2="730.5" stroke-width="0.9"/>
<line x1="454.7" y1="794.5" x2="485.9" y2="794.5" stroke-width="0.9"/>
<line x1="452" y1="733.5" x2="454.7" y2="733.5" stroke-width="0.9"/>
<line x1="452" y1="792.5" x2="454.7" y2="792.5" stroke-width="0.9"/>
<line x1="424.5" y1="754.5" x2="485.9" y2="754.5" stroke-width="0.62" stroke-dasharray="4.4 2.6"/>
<line x1="473.4" y1="735.5" x2="485.9" y2="735.5" stroke-width="0.62" stroke-dasharray="4.4 2.6"/>
<line x1="473.5" y1="735.3" x2="473.5" y2="754.3" stroke-width="0.62" stroke-dasharray="4.4 2.6"/>
<line x1="424.5" y1="771.5" x2="485.9" y2="771.5" stroke-width="0.62" stroke-dasharray="4.4 2.6"/>
<line x1="473.4" y1="790.5" x2="485.9" y2="790.5" stroke-width="0.62" stroke-dasharray="4.4 2.6"/>
<line x1="473.5" y1="790.3" x2="473.5" y2="771.3" stroke-width="0.62" stroke-dasharray="4.4 2.6"/>
<line x1="424.5" y1="754.3" x2="424.5" y2="771.3" stroke-width="0.62" stroke-dasharray="4.4 2.6"/>
<line x1="350.5" y1="651.5" x2="485.5" y2="651.5" stroke-width="0.7"/>
<path d="M350.5 651.5 L357 649.87 L357 653.13 Z" fill="#231f20" stroke="none"/>
<path d="M485.5 651.5 L479 653.13 L479 649.87 Z" fill="#231f20" stroke="none"/>
<text transform="translate(418 649.8) scale(0.88 1)" font-size="14.5" text-anchor="middle">L8</text>
<line x1="350.5" y1="649.7" x2="350.5" y2="736.9" stroke-width="0.7"/>
<line x1="485.5" y1="649.7" x2="485.5" y2="722.6" stroke-width="0.7"/>
<line x1="350.5" y1="669.5" x2="374.5" y2="669.5" stroke-width="0.7"/>
<path d="M350.5 669.5 L356 667.87 L356 671.13 Z" fill="#231f20" stroke="none"/>
<path d="M374.5 669.5 L369 671.13 L369 667.87 Z" fill="#231f20" stroke="none"/>
<text transform="translate(355.4 669.2) scale(0.88 1)" font-size="14.5" text-anchor="start">L4</text>
<line x1="374.5" y1="667.8" x2="374.5" y2="707.6" stroke-width="0.7"/>
<line x1="354.5" y1="689.5" x2="403" y2="689.5" stroke-width="0.7"/>
<path d="M365.5 689.5 L359 691.13 L359 687.87 Z" fill="#231f20" stroke="none"/>
<path d="M374.5 689.5 L381 687.87 L381 691.13 Z" fill="#231f20" stroke="none"/>
<text transform="translate(385.4 687.7) scale(0.88 1)" font-size="14.5" text-anchor="start">L2</text>
<line x1="365.5" y1="687.7" x2="365.5" y2="719.9" stroke-width="0.7"/>
<line x1="364.2" y1="704.5" x2="402.9" y2="704.5" stroke-width="0.7"/>
<path d="M374.5 704.5 L368 706.13 L368 702.87 Z" fill="#231f20" stroke="none"/>
<path d="M379.5 704.5 L386 702.87 L386 706.13 Z" fill="#231f20" stroke="none"/>
<text transform="translate(385.4 702.6) scale(0.88 1)" font-size="14.5" text-anchor="start">L3</text>
<line x1="379.5" y1="702.5" x2="379.5" y2="709.1" stroke-width="0.7"/>
<line x1="424.5" y1="689.5" x2="485.5" y2="689.5" stroke-width="0.7"/>
<path d="M424.5 689.5 L431 687.87 L431 691.13 Z" fill="#231f20" stroke="none"/>
<path d="M485.5 689.5 L479 691.13 L479 687.87 Z" fill="#231f20" stroke="none"/>
<text transform="translate(447.8 687.7) scale(0.88 1)" font-size="14.5" text-anchor="start">L7</text>
<line x1="424.5" y1="687.1" x2="424.5" y2="754.3" stroke-width="0.7"/>
<line x1="463.3" y1="704.5" x2="516.2" y2="704.5" stroke-width="0.7"/>
<path d="M473.5 704.5 L467 706.13 L467 702.87 Z" fill="#231f20" stroke="none"/>
<path d="M485.5 704.5 L492 702.87 L492 706.13 Z" fill="#231f20" stroke="none"/>
<text transform="translate(499 702.6) scale(0.88 1)" font-size="14.5" text-anchor="start">L6</text>
<line x1="473.5" y1="702.5" x2="473.5" y2="720.5" stroke-width="0.7"/>
<line x1="323.7" y1="697.5" x2="364.3" y2="697.5" stroke-width="0.7"/>
<path d="M350.5 697.5 L344 699.13 L344 695.87 Z" fill="#231f20" stroke="none"/>
<path d="M353.5 697.5 L360 695.87 L360 699.13 Z" fill="#231f20" stroke="none"/>
<text transform="translate(327.6 694.9) scale(0.88 1)" font-size="14.5" text-anchor="start">L1</text>
<line x1="353.5" y1="694.5" x2="353.5" y2="722.4" stroke-width="0.7"/>
<line x1="325.9" y1="837.5" x2="371.7" y2="837.5" stroke-width="0.7"/>
<path d="M350.5 837.5 L344 839.13 L344 835.87 Z" fill="#231f20" stroke="none"/>
<path d="M360.5 837.5 L367 835.87 L367 839.13 Z" fill="#231f20" stroke="none"/>
<text transform="translate(330.5 835.9) scale(0.88 1)" font-size="14.5" text-anchor="start">L5</text>
<line x1="350.5" y1="788.7" x2="350.5" y2="839.9" stroke-width="0.7"/>
<line x1="360.5" y1="801.2" x2="360.5" y2="839.9" stroke-width="0.7"/>
<line x1="274" y1="709.5" x2="374" y2="709.5" stroke-width="0.7"/>
<line x1="274" y1="815.5" x2="374" y2="815.5" stroke-width="0.7"/>
<line x1="276.5" y1="709.5" x2="276.5" y2="815.5" stroke-width="0.7"/>
<path d="M276.5 709.5 L278.13 716.3 L274.87 716.3 Z" fill="#231f20" stroke="none"/>
<path d="M276.5 815.5 L274.87 808.7 L278.13 808.7 Z" fill="#231f20" stroke="none"/>
<text transform="translate(272.9 774.9) rotate(-90) scale(0.88 1)" font-size="14.5" text-anchor="start"><tspan class="dia" font-size="14.21" dy="0.5" dx="-1.5">∅</tspan><tspan dx="1.5" dy="-0.5">D4</tspan></text>
<line x1="293.9" y1="723.5" x2="363.3" y2="723.5" stroke-width="0.7"/>
<line x1="293.9" y1="801.5" x2="363.3" y2="801.5" stroke-width="0.7"/>
<line x1="296.5" y1="723.5" x2="296.5" y2="801.5" stroke-width="0.7"/>
<path d="M296.5 723.5 L298.13 730.3 L294.87 730.3 Z" fill="#231f20" stroke="none"/>
<path d="M296.5 801.5 L294.87 794.7 L298.13 794.7 Z" fill="#231f20" stroke="none"/>
<text transform="translate(293 781.3) rotate(-90) scale(0.88 1)" font-size="14.5" text-anchor="start"><tspan class="dia" font-size="14.21" dy="0.5" dx="-1.5">∅</tspan><tspan dx="1.5" dy="-0.5">D3</tspan><tspan font-size="10.88" dx="3.2" letter-spacing="0.5">h6</tspan></text>
<line x1="310.5" y1="738.5" x2="347" y2="738.5" stroke-width="0.7"/>
<line x1="310.5" y1="787.5" x2="347" y2="787.5" stroke-width="0.7"/>
<line x1="312.5" y1="738.5" x2="312.5" y2="787.5" stroke-width="0.7"/>
<path d="M312.5 738.5 L314.13 745.3 L310.87 745.3 Z" fill="#231f20" stroke="none"/>
<path d="M312.5 787.5 L310.87 780.7 L314.13 780.7 Z" fill="#231f20" stroke="none"/>
<text transform="translate(309.5 781.8) rotate(-90) scale(0.88 1)" font-size="14.5" text-anchor="start"><tspan class="dia" font-size="14.21" dy="0.5" dx="-1.5">∅</tspan><tspan dx="1.5" dy="-0.5">D2</tspan><tspan font-size="10.88" dx="3.2" letter-spacing="0.5">h6</tspan></text>
<line x1="329.4" y1="750.5" x2="347" y2="750.5" stroke-width="0.7"/>
<line x1="329.4" y1="775.5" x2="347" y2="775.5" stroke-width="0.7"/>
<line x1="331.5" y1="750.5" x2="331.5" y2="775.5" stroke-width="0.7"/>
<path d="M331.5 750.5 L333.13 757.3 L329.87 757.3 Z" fill="#231f20" stroke="none"/>
<path d="M331.5 775.5 L329.87 768.7 L333.13 768.7 Z" fill="#231f20" stroke="none"/>
<text transform="translate(329.6 782.2) rotate(-90) scale(0.88 1)" font-size="14.5" text-anchor="start"><tspan class="dia" font-size="14.21" dy="0.5" dx="-1.5">∅</tspan><tspan dx="1.5" dy="-0.5">D1</tspan><tspan font-size="10.88" dx="3.2" letter-spacing="0.5">G6</tspan></text>
<line x1="488.8" y1="735.5" x2="525.3" y2="735.5" stroke-width="0.7"/>
<line x1="488.8" y1="790.5" x2="525.3" y2="790.5" stroke-width="0.7"/>
<line x1="523.5" y1="735.5" x2="523.5" y2="790.5" stroke-width="0.7"/>
<path d="M523.5 735.5 L525.13 742.3 L521.87 742.3 Z" fill="#231f20" stroke="none"/>
<path d="M523.5 790.5 L521.87 783.7 L525.13 783.7 Z" fill="#231f20" stroke="none"/>
<text transform="translate(521 777.6) rotate(-90) scale(0.88 1)" font-size="14.5" text-anchor="start">D6<tspan font-size="10.88" dx="3.2" letter-spacing="0.5">G6</tspan></text>
<line x1="486.6" y1="754.5" x2="502.1" y2="754.5" stroke-width="0.7"/>
<line x1="486.6" y1="771.5" x2="502.1" y2="771.5" stroke-width="0.7"/>
<line x1="499.5" y1="754.3" x2="499.5" y2="855.6" stroke-width="0.7"/>
<path d="M499.5 754.5 L501.13 761 L497.87 761 Z" fill="#231f20" stroke="none"/>
<path d="M499.5 771.5 L497.87 765 L501.13 765 Z" fill="#231f20" stroke="none"/>
<text transform="translate(497 849.2) rotate(-90) scale(0.88 1)" font-size="14.5" text-anchor="start"><tspan class="dia" font-size="14.21" dy="0.5" dx="-1.5">∅</tspan><tspan dx="1.5" dy="-0.5">D5</tspan><tspan font-size="10.88" dx="3.2" letter-spacing="0.5">G6</tspan></text>
<circle cx="646.5" cy="762.6" r="53" stroke-width="1.05" fill="none"/>
<circle cx="646.5" cy="762.6" r="42.5" stroke-width="1" fill="none"/>
<circle cx="646.5" cy="762.6" r="38.9" stroke-width="0.5" fill="none"/>
<circle cx="646.5" cy="762.6" r="33.6" stroke-width="0.6" fill="none"/>
<circle cx="646.5" cy="762.6" r="30" stroke-width="1" fill="none"/>
<circle cx="646.5" cy="762.6" r="22.2" stroke-width="1.4" fill="none"/>
<circle cx="646.5" cy="762.6" r="17.9" stroke-width="0.9" fill="none"/>
<circle cx="646.5" cy="762.6" r="8.3" stroke-width="0.9" fill="none"/>
<rect x="610.5" y="726.5" width="73" height="73" stroke-width="0.9" fill="none"/>
<rect x="611.8" y="727.7" width="70.4" height="70.4" stroke-width="0.45" fill="none"/>
<line x1="610.5" y1="762.5" x2="682.5" y2="762.5" stroke-width="1" style="stroke:#999"/>
<line x1="682.5" y1="762.5" x2="714.1" y2="762.5" stroke-width="0.7"/>
<line x1="646.5" y1="726.6" x2="646.5" y2="798.6" stroke-width="1" style="stroke:#999"/>
<circle cx="694.7" cy="762.6" r="2.5" stroke-width="0.9" fill="#fff"/>
<circle cx="646.5" cy="714.4" r="2.5" stroke-width="0.9" fill="#fff"/>
<circle cx="598.3" cy="762.6" r="2.5" stroke-width="0.9" fill="#fff"/>
<circle cx="646.5" cy="810.8" r="2.5" stroke-width="0.9" fill="#fff"/>
<circle cx="619.1" cy="735.2" r="1.8" stroke-width="0.9" fill="#777"/>
<circle cx="611.3" cy="727.2" r="1.1" stroke-width="0.5" fill="none"/>
<circle cx="619.1" cy="790" r="1.8" stroke-width="0.9" fill="#777"/>
<circle cx="611.3" cy="798.6" r="1.1" stroke-width="0.5" fill="none"/>
<circle cx="673.9" cy="735.2" r="1.8" stroke-width="0.9" fill="#777"/>
<circle cx="682.7" cy="727.2" r="1.1" stroke-width="0.5" fill="none"/>
<circle cx="673.9" cy="790" r="1.8" stroke-width="0.9" fill="#777"/>
<circle cx="682.7" cy="798.6" r="1.1" stroke-width="0.5" fill="none"/>
<circle cx="673.4" cy="762.6" r="4.05" stroke-width="1.1" fill="#fff"/>
<circle cx="673.4" cy="762.6" r="2.1" stroke-width="1" fill="#858585"/>
<circle cx="671.35" cy="772.89" r="4.05" stroke-width="1.1" fill="#fff"/>
<circle cx="671.35" cy="772.89" r="2.1" stroke-width="1" fill="#858585"/>
<circle cx="646.5" cy="735.7" r="4.05" stroke-width="1.1" fill="#fff"/>
<circle cx="646.5" cy="735.7" r="2.1" stroke-width="1" fill="#858585"/>
<circle cx="656.79" cy="737.75" r="4.05" stroke-width="1.1" fill="#fff"/>
<circle cx="656.79" cy="737.75" r="2.1" stroke-width="1" fill="#858585"/>
<circle cx="619.6" cy="762.6" r="4.05" stroke-width="1.1" fill="#fff"/>
<circle cx="619.6" cy="762.6" r="2.1" stroke-width="1" fill="#858585"/>
<circle cx="621.65" cy="752.31" r="4.05" stroke-width="1.1" fill="#fff"/>
<circle cx="621.65" cy="752.31" r="2.1" stroke-width="1" fill="#858585"/>
<circle cx="646.5" cy="789.5" r="4.05" stroke-width="1.1" fill="#fff"/>
<circle cx="646.5" cy="789.5" r="2.1" stroke-width="1" fill="#858585"/>
<circle cx="636.21" cy="787.45" r="4.05" stroke-width="1.1" fill="#fff"/>
<circle cx="636.21" cy="787.45" r="2.1" stroke-width="1" fill="#858585"/>
<circle cx="638.7" cy="773.9" r="3" stroke-width="0.9" fill="#fff"/>
<circle cx="646.4" cy="775.8" r="3" stroke-width="0.9" fill="#fff"/>
<line x1="645.5" y1="745.4" x2="645.5" y2="754.6" stroke-width="0.8"/>
<line x1="647.5" y1="745.4" x2="647.5" y2="754.6" stroke-width="0.8"/>
<line x1="645.5" y1="745.5" x2="647.5" y2="745.5" stroke-width="0.8"/>
<line x1="633.9" y1="748" x2="636.5" y2="747.2" stroke-width="1.1"/>
<line x1="654.7" y1="746" x2="657.5" y2="745.7" stroke-width="1.1"/>
<line x1="553" y1="723.1" x2="682.64" y2="777.79" stroke-width="0.7"/>
<path d="M682.64 777.79 L676.45 777.04 L677.77 773.89 Z" fill="#231f20" stroke="none"/>
<path d="M610.36 747.41 L616.55 748.16 L615.23 751.31 Z" fill="#231f20" stroke="none"/>
<text transform="translate(559.4 723) rotate(22.8) scale(0.88 1)" font-size="14.5" text-anchor="start"><tspan class="dia" font-size="14.21" dy="0.5" dx="-1.5">∅</tspan><tspan dx="1.5" dy="-0.5">D12</tspan></text>
<text transform="translate(570.9 821.7) scale(0.88 1)" font-size="14.5" text-anchor="start">4-D13</text>
<line x1="565.9" y1="824.5" x2="607.6" y2="824.5" stroke-width="0.7"/>
<line x1="607.6" y1="824.1" x2="618.2" y2="792.2" stroke-width="0.7"/>
<path d="M618.2 792.2 L617.93 798.43 L614.69 797.36 Z" fill="#231f20" stroke="none"/>
<line x1="610.5" y1="833.5" x2="683.5" y2="833.5" stroke-width="0.7"/>
<path d="M610.5 833.5 L617 831.87 L617 835.13 Z" fill="#231f20" stroke="none"/>
<path d="M683.5 833.5 L677 835.13 L677 831.87 Z" fill="#231f20" stroke="none"/>
<line x1="610.5" y1="799.8" x2="610.5" y2="835.5" stroke-width="0.7"/>
<line x1="683.5" y1="799.8" x2="683.5" y2="835.5" stroke-width="0.7"/>
<text transform="translate(634.9 831) scale(0.88 1)" font-size="14.5" text-anchor="start"><tspan class="dia" font-size="10.15" dy="-0.3">□</tspan><tspan dx="1.6" dy="0.3">A1</tspan></text>
<path d="M692.96 716.14 A65.7 65.7 0 0 1 712.2 762.6" stroke-width="0.7" fill="none"/>
<path d="M707.1 702 A85.7 85.7 0 0 1 707.1 823.2" stroke-width="0.7" fill="none"/>
<line x1="683.9" y1="726" x2="708.51" y2="700.59" stroke-width="0.7"/>
<line x1="683.9" y1="799.8" x2="708.51" y2="824.61" stroke-width="0.7"/>
<path d="M707.1 702 L713.59 705.55 L711.31 708.09 Z" fill="#231f20" stroke="none"/>
<path d="M707.1 823.2 L711.31 817.11 L713.59 819.65 Z" fill="#231f20" stroke="none"/>
<path d="M692.96 716.14 L698.78 719.09 L696.5 721.63 Z" fill="#231f20" stroke="none"/>
<path d="M712.2 762.6 L710.17 756.4 L713.57 756.22 Z" fill="#231f20" stroke="none"/>
<text transform="translate(709.6 737) rotate(68) scale(0.88 1)" font-size="15" text-anchor="middle">45<tspan font-size="7.8" dy="-5.4" dx="0.4">°</tspan></text>
<text transform="translate(730.4 771.5) rotate(-90) scale(0.88 1)" font-size="14.6" text-anchor="start">90<tspan font-size="7.59" dy="-5.26" dx="0.4">°</tspan></text>
</g>
</svg>
<table class="spec t1">
<colgroup><col><col><col><col><col><col><col><col><col><col><col><col><col><col><col><col><col><col><col><col><col><col class="last"></colgroup>
<tr class="r0"><th colspan="22"><span>PG110-L1</span></th></tr>
<tr class="r1"><th><span>D1</span></th><th><span class="t">D2</span></th><th><span>D3</span></th><th><span class="t">D4</span></th><th><span>D5</span></th><th><span>D6</span></th><th><span class="t">D7</span></th><th><span>D8</span></th><th><span>D9</span></th><th><span>D10</span></th><th><span>D11</span></th><th><span>D12</span></th><th><span>D13</span></th><th><span>L1</span></th><th><span class="t">L2</span></th><th><span>L3</span></th><th><span class="t">L4</span></th><th><span>L5</span></th><th><span>L6</span></th><th><span class="t">L7</span></th><th><span class="t">L8</span></th><th><span>A1</span></th></tr>
<tr class="r2"><td><span>40</span></td><td><span class="t">80</span></td><td><span>110</span></td><td><span>145</span></td><td><span>22</span></td><td><span>110</span></td><td><span class="t">163</span></td><td><span>135</span></td><td><span>6</span></td><td><span>M6</span></td><td><span class="w">5.5</span></td><td><span>145</span></td><td><span>M8</span></td><td><span>6</span></td><td><span class="t">10</span></td><td><span>8</span></td><td><span>29</span></td><td><span>13</span></td><td><span>10</span></td><td><span class="t">62</span></td><td><span>142</span></td><td><span>130</span></td></tr>
<tr class="r3"><td colspan="22">客户定制</td></tr>
</table>
<table class="spec t2">
<colgroup><col><col><col><col><col><col><col><col><col><col><col><col><col><col><col><col><col><col><col><col><col><col class="last"></colgroup>
<tr class="r0"><th colspan="22"><span>PG110-L2</span></th></tr>
<tr class="r1"><th><span>D1</span></th><th><span class="t">D2</span></th><th><span>D3</span></th><th><span class="t">D4</span></th><th><span>D5</span></th><th><span>D6</span></th><th><span class="t">D7</span></th><th><span>D8</span></th><th><span>D9</span></th><th><span>D10</span></th><th><span>D11</span></th><th><span>D12</span></th><th><span>D13</span></th><th><span>L1</span></th><th><span class="t">L2</span></th><th><span>L3</span></th><th><span class="t">L4</span></th><th><span>L5</span></th><th><span>L6</span></th><th><span class="t">L7</span></th><th><span class="t">L8</span></th><th><span>A1</span></th></tr>
<tr class="r2"><td><span>40</span></td><td><span class="t">80</span></td><td><span>110</span></td><td><span>145</span></td><td><span>22</span></td><td><span>110</span></td><td><span class="t">63</span></td><td><span>135</span></td><td><span>6</span></td><td><span>M6</span></td><td><span class="w">5.5</span></td><td><span>145</span></td><td><span>M8</span></td><td><span>6</span></td><td><span class="t">10</span></td><td><span>8</span></td><td><span>29</span></td><td><span>13</span></td><td><span>10</span></td><td><span class="t">62</span></td><td><span>176</span></td><td><span>130</span></td></tr>
<tr class="r3"><td colspan="22">客户定制</td></tr>
</table>
<svg class="foot" viewBox="60 1054 340 42"><path d="M85.69 1062.59 L84.33 1059.47 L77.67 1059.47 L76.31 1062.59 A2.6 2.6 0 0 1 73.03 1064.48 L69.65 1064.1 L66.31 1069.87 L68.34 1072.61 A2.6 2.6 0 0 1 68.34 1076.39 L66.31 1079.13 L69.65 1084.9 L73.03 1084.52 A2.6 2.6 0 0 1 76.31 1086.41 L77.67 1089.53 L84.33 1089.53 L85.69 1086.41 A2.6 2.6 0 0 1 88.97 1084.52 L92.35 1084.9 L95.69 1079.13 L93.66 1076.39 A2.6 2.6 0 0 1 93.66 1072.61 L95.69 1069.87 L92.35 1064.1 L88.97 1064.48 A2.6 2.6 0 0 1 85.69 1062.59 Z" fill="#bfc0c2"/><circle cx="101.1" cy="1074.2" r="4.1" fill="#bfc0c2"/><rect x="101" y="1072.7" width="282.4" height="3" fill="#bfc0c2"/></svg>
<div class="pg">37</div>
<div class="frame"></div>
</body>
</html>
